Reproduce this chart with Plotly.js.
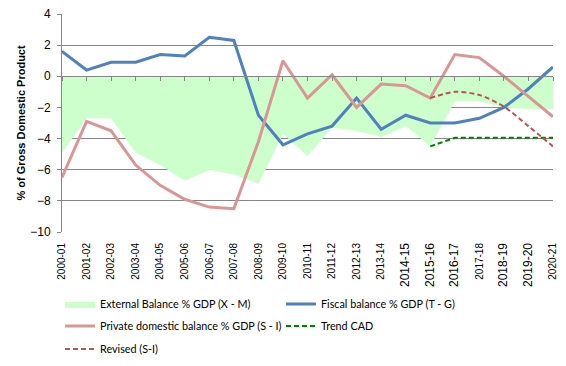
<!DOCTYPE html>
<html>
<head>
<meta charset="utf-8">
<script src="https://cdn.plot.ly/plotly-3.0.1.min.js"></script>
<style>html,body{margin:0;padding:0;background:#fff;}#chart{width:566px;height:366px;}</style>
</head>
<body>
<div id="chart"></div>
<script>
const categories = ["2000-01","2001-02","2002-03","2003-04","2004-05","2005-06","2006-07","2007-08","2008-09","2009-10","2010-11","2011-12","2012-13","2013-14","2014-15","2015-16","2016-17","2017-18","2018-19","2019-20","2020-21"];
const externalBalance = [-4.9,-2.7,-2.7,-4.9,-5.7,-6.7,-6.0,-6.3,-6.9,-3.7,-5.1,-3.3,-3.5,-3.9,-3.2,-4.5,-1.6,-1.6,-2.0,-2.1,-2.1];
const fiscalBalance = [1.6,0.4,0.9,0.9,1.4,1.3,2.5,2.3,-2.5,-4.4,-3.7,-3.2,-1.4,-3.4,-2.5,-3.0,-3.0,-2.7,-2.0,-0.8,0.6];
const privateBalance = [-6.5,-2.9,-3.5,-5.7,-7.0,-7.9,-8.4,-8.5,-4.2,1.0,-1.4,0.1,-2.0,-0.5,-0.6,-1.4,1.4,1.2,0.0,-1.3,-2.6];
const trendCADCats = ["2015-16","2016-17","2017-18","2018-19","2019-20","2020-21"];
const trendCAD = [-4.5,-3.95,-3.95,-3.95,-3.95,-3.95];
const revisedCats = ["2015-16","2016-17","2017-18","2018-19","2019-20","2020-21"];
const revisedSI = [-1.4,-1.0,-1.2,-1.95,-3.2,-4.5];
const largeLabels = ["2014-15","2015-16","2016-17","2018-19","2019-20"];
const yTicks = [-10,-8,-6,-4,-2,0,2,4];

const grid = 'rgb(134,134,134)';
const legendFont = {family: "Lato, sans-serif", size: 10.8, color: '#000'};

const traces = [
  {x: categories, y: externalBalance, type: 'scatter', mode: 'lines', fill: 'tozeroy',
   fillcolor: 'rgb(204,255,204)', line: {width: 0, color: 'rgb(204,255,204)'},
   name: 'External Balance % GDP (X - M)', hoverinfo: 'skip', legend: 'legend'},
  {x: categories, y: fiscalBalance, type: 'scatter', mode: 'lines',
   line: {width: 3, color: 'rgb(79,129,189)'}, name: 'Fiscal balance % GDP (T - G)', legend: 'legend2'},
  {x: categories, y: privateBalance, type: 'scatter', mode: 'lines',
   line: {width: 3, color: 'rgb(217,150,148)'}, name: 'Private domestic balance % GDP (S - I)', legend: 'legend3'},
  {x: trendCADCats, y: trendCAD, type: 'scatter', mode: 'lines',
   line: {width: 2, color: 'rgb(0,128,0)', dash: '5px,3px'}, name: 'Trend CAD', legend: 'legend4'},
  {x: revisedCats, y: revisedSI, type: 'scatter', mode: 'lines',
   line: {width: 2, color: 'rgb(192,80,77)', dash: '5px,3px', shape: 'spline', smoothing: 0.8}, name: 'Revised (S-I)', legend: 'legend5'},
  {x: [categories[0]], y: [null], xaxis: 'x2', type: 'scatter', mode: 'lines', showlegend: false, hoverinfo: 'skip'}
];

const tickText = categories.map(c => largeLabels.includes(c) ? '<span style="font-size:12px">' + c + '</span>' : c);

function legendAt(xPix, yPix) {
  return {orientation: 'h', xref: 'container', yref: 'container', x: xPix / 566, y: 1 - yPix / 366,
    xanchor: 'left', yanchor: 'middle', font: legendFont, bgcolor: 'rgba(0,0,0,0)'};
}

const layout = {
  width: 566, height: 366,
  margin: {l: 62, r: 13, t: 14, b: 134, pad: 0},
  paper_bgcolor: '#fff', plot_bgcolor: '#fff',
  showlegend: true,
  font: {family: "'Liberation Sans', Arial, sans-serif", color: '#000'},
  xaxis: {type: 'category', range: [0, 20], tickvals: categories, ticktext: tickText,
    tickangle: -90, tickfont: {size: 10, family: "'Liberation Sans', Arial, sans-serif"},
    showgrid: false, zeroline: false, showline: false, ticks: '', ticklabelstandoff: 8, fixedrange: true},
  xaxis2: {type: 'category', matches: 'x', overlaying: 'x', anchor: 'free', position: 10/14,
    side: 'bottom', showline: true, linecolor: grid, linewidth: 1, ticks: 'outside', ticklen: 4,
    tickcolor: grid, showticklabels: false, showgrid: false, zeroline: false},
  yaxis: {range: [-10, 4], tickvals: yTicks, showgrid: true, gridcolor: grid, gridwidth: 1,
    zeroline: false, showline: true, linecolor: grid, linewidth: 1, ticks: 'outside', ticklen: 4,
    tickcolor: grid, tickfont: {size: 12}, ticklabelstandoff: 4,
    title: {text: '<b>% of Gross Domestic Product</b>', font: {size: 11}, standoff: 2}},
  legend: legendAt(60, 304),
  legend2: legendAt(281, 304),
  legend3: legendAt(60, 326),
  legend4: legendAt(281, 326),
  legend5: legendAt(60, 349)
};

Plotly.newPlot('chart', traces, layout, {staticPlot: true, displayModeBar: false});
</script>
</body>
</html>
